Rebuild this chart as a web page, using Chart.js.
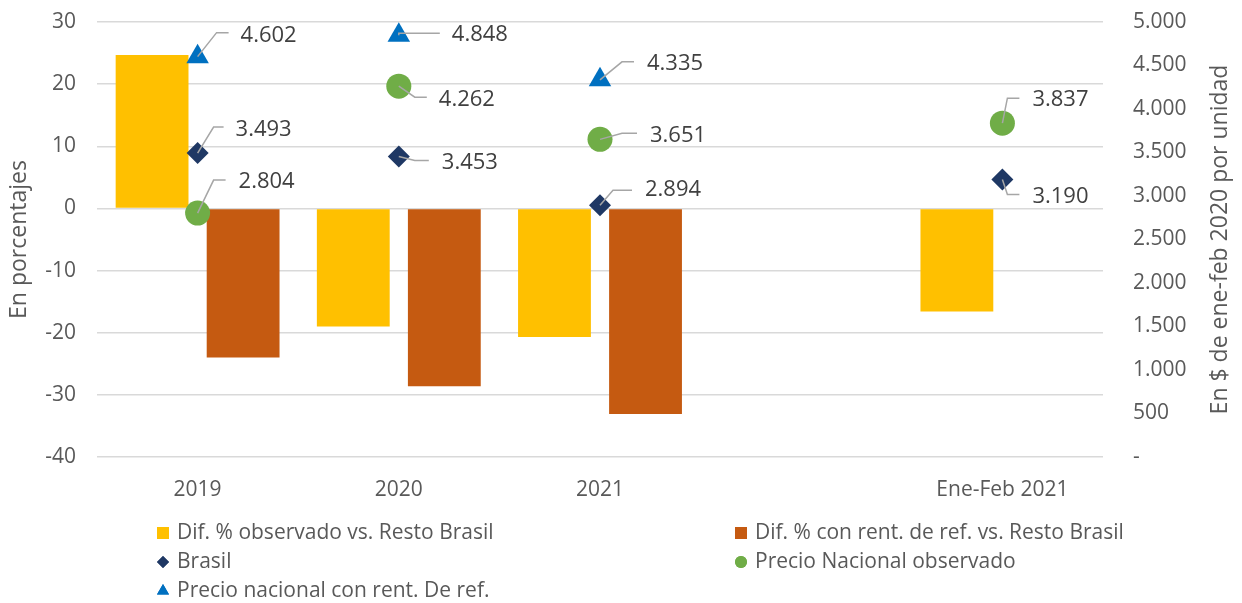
<!DOCTYPE html>
<html>
<head>
<meta charset="utf-8">
<script src="https://cdn.jsdelivr.net/npm/chart.js@4.4.1/dist/chart.umd.min.js"></script>
<style>
  body { margin: 0; background: #fff; }
  #wrap { width: 1242px; height: 603px; }
</style>
</head>
<body>
<div id="wrap"><canvas id="precios" width="1242" height="603"></canvas></div>
<script>
// categorias (la cuarta queda vacia, como en el original)
const categorias = ['2019', '2020', '2021', '', 'Ene-Feb 2021'];

// eje izquierdo, en porcentajes
const difObservado = [24.7, -19.0, -20.7, null, -16.6];
const difRentRef = [-24.0, -28.6, -33.1, null, null];

// eje derecho, en $ de ene-feb 2020 por unidad
const brasil = [3493, 3453, 2894, null, 3190];
const precioObservado = [2804, 4262, 3651, null, 3837];
const precioRentRef = [4602, 4848, 4335, null, null];

const ticksIzq = { min: -40, max: 30, step: 10 };
const ticksDer = { min: 0, max: 5000, step: 500 };

const textColor = '#595959';
const fontName = "'Open Sans', 'Noto Sans', sans-serif";

// posicion de cada etiqueta respecto a su punto: [codoX, codoY, finX, textoX, textoY]
const etiquetas = {
  'Brasil': [[16, -26, 26, 38, -23], [16, 4, 30, 43, 6], [13, -15, 32, 45, -15], null, [5, 15, 17, 30, 17]],
  'Precio Nacional observado': [[16, -33, 28, 41, -31], [16, 11, 28, 40, 14], [22, -6, 37, 50, -4], null, [5, -25, 17, 30, -23]],
  'Precio nacional con rent. De ref.': [[19, -24, 31, 43, -21], [0, -2, 41, 53, 0], [22, -18, 34, 47, -16], null, null]
};

function miles(v) {
  return String(v).replace(/\B(?=(\d{3})+(?!\d))/g, '.');
}

const leaderLabels = {
  id: 'leaderLabels',
  afterDatasetsDraw(chart) {
    const ctx = chart.ctx;
    chart.data.datasets.forEach((ds, di) => {
      const place = etiquetas[ds.label];
      if (!place) return;
      const meta = chart.getDatasetMeta(di);
      meta.data.forEach((pt, i) => {
        const v = ds.data[i];
        if (v == null || !place[i]) return;
        const [ex, ey, hx, tx, ty] = place[i];
        ctx.save();
        ctx.strokeStyle = '#a6a6a6';
        ctx.lineWidth = 1.5;
        ctx.beginPath();
        ctx.moveTo(pt.x, pt.y);
        ctx.lineTo(pt.x + ex, pt.y + ey);
        ctx.lineTo(pt.x + hx, pt.y + ey);
        ctx.stroke();
        ctx.fillStyle = '#404040';
        ctx.font = '22px ' + fontName;
        ctx.textAlign = 'left';
        ctx.textBaseline = 'middle';
        ctx.fillText(miles(v), pt.x + tx, pt.y + ty);
        ctx.restore();
      });
    });
  }
};

// leyenda en dos columnas y titulo del eje derecho
const extras = {
  id: 'extras',
  afterDraw(chart) {
    const ctx = chart.ctx;
    const area = chart.chartArea;
    ctx.save();
    ctx.fillStyle = textColor;
    ctx.font = '23px ' + fontName;
    ctx.textAlign = 'center';
    ctx.textBaseline = 'middle';
    ctx.translate(1220, (area.top + area.bottom) / 2);
    ctx.rotate(-Math.PI / 2);
    ctx.fillText('En $ de ene-feb 2020 por unidad', 0, 0);
    ctx.restore();

    const cols = [163, 741];
    const rows = [533, 562, 591];
    chart.data.datasets.forEach((ds, i) => {
      const x = cols[i % 2];
      const y = rows[Math.floor(i / 2)];
      ctx.save();
      ctx.fillStyle = ds.backgroundColor;
      if (ds.type === 'bar') {
        ctx.fillRect(x - 6, y - 6, 12, 12);
      } else {
        Chart.helpers.drawPoint(ctx, { pointStyle: ds.pointStyle, radius: ds.pointStyle === 'triangle' ? 7 : 6, borderWidth: 0 }, x, y);
        ctx.fill();
      }
      ctx.fillStyle = textColor;
      ctx.font = '21px ' + fontName;
      ctx.textAlign = 'left';
      ctx.textBaseline = 'middle';
      ctx.fillText(ds.label, x + 14, y);
      ctx.restore();
    });
  }
};

const puntos = (label, data, color, style, radius) => ({
  type: 'line',
  label: label,
  data: data,
  yAxisID: 'y1',
  showLine: false,
  pointStyle: style,
  pointRadius: radius,
  pointHoverRadius: radius,
  pointBorderWidth: 0,
  backgroundColor: color,
  borderColor: color,
  order: 0
});

new Chart(document.getElementById('precios'), {
  type: 'bar',
  data: {
    labels: categorias,
    datasets: [
      { type: 'bar', label: 'Dif. % observado vs. Resto Brasil', data: difObservado, backgroundColor: '#ffc000', yAxisID: 'y', order: 1, categoryPercentage: 0.905, barPercentage: 0.8 },
      { type: 'bar', label: 'Dif. % con rent. de ref. vs. Resto Brasil', data: difRentRef, backgroundColor: '#c55a11', yAxisID: 'y', order: 1, categoryPercentage: 0.905, barPercentage: 0.8 },
      puntos('Brasil', brasil, '#1f3864', 'rectRot', 11),
      puntos('Precio Nacional observado', precioObservado, '#70ad47', 'circle', 12.5),
      puntos('Precio nacional con rent. De ref.', precioRentRef, '#0070c0', 'triangle', 13)
    ]
  },
  options: {
    responsive: false,
    animation: false,
    layout: { padding: { top: 22, left: 0, right: 0, bottom: 0 } },
    plugins: {
      legend: { display: false },
      tooltip: { enabled: false }
    },
    scales: {
      x: {
        grid: { display: false, drawTicks: false },
        border: { display: false },
        ticks: { color: textColor, font: { family: fontName, size: 21 }, padding: 20, maxRotation: 0, autoSkip: false },
        afterFit(s) { s.height = 146; }
      },
      y: {
        position: 'left',
        min: ticksIzq.min,
        max: ticksIzq.max,
        ticks: { stepSize: ticksIzq.step, color: textColor, font: { family: fontName, size: 21 }, padding: 3 },
        grid: { color: '#d9d9d9', lineWidth: 1.5, drawTicks: true, tickLength: 18, tickColor: 'rgba(0,0,0,0)' },
        border: { display: false },
        title: { display: true, text: 'En porcentajes', color: textColor, font: { family: fontName, size: 23 }, padding: { top: 6, bottom: 0 } },
        afterFit(s) { s.width = 97; }
      },
      y1: {
        position: 'right',
        min: ticksDer.min,
        max: ticksDer.max,
        ticks: {
          stepSize: ticksDer.step, color: textColor, font: { family: fontName, size: 21 }, padding: 3,
          callback: (v) => v === 0 ? '-' : miles(v)
        },
        grid: { display: false, drawTicks: true, tickLength: 27 },
        border: { display: false },
        afterFit(s) { s.width = 139; }
      }
    }
  },
  plugins: [leaderLabels, extras]
});
</script>
</body>
</html>
